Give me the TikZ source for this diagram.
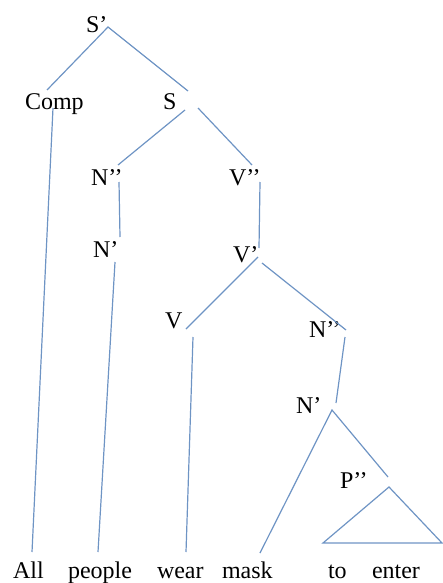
\documentclass[tikz,border=0pt]{standalone}
\usepackage{fontspec}
\setmainfont{Liberation Serif}
\definecolor{branch}{RGB}{110,148,196}
\begin{document}
\begin{tikzpicture}[x=1pt,y=-1pt,
  lbl/.style={anchor=base west,inner sep=0pt,outer sep=0pt,font=\fontsize{24}{28}\selectfont,text=black},
  br/.style={draw=branch,line width=1.2pt}]
\useasboundingbox (0,0) rectangle (442,583);
% labels
\node[lbl] (Sbar) at (86,33) {S’};
\node[lbl] (Comp) at (25,110) {Comp};
\node[lbl] (S) at (163,110) {S};
\node[lbl] (Npp1) at (91,185) {N’’};
\node[lbl] (Np1) at (93,257) {N’};
\node[lbl] (Vpp) at (229,185) {V’’};
\node[lbl] (Vp) at (233,262) {V’};
\node[lbl] (V) at (165,328) {V};
\node[lbl] (Npp2) at (309,337) {N’’};
\node[lbl] (Np2) at (296,413) {N’};
\node[lbl] (Ppp) at (340,488) {P’’};
\node[lbl] (w1) at (13,578) {All};
\node[lbl] (w2) at (68,578) {people};
\node[lbl] (w3) at (157,578) {wear};
\node[lbl] (w4) at (222,578) {mask};
\node[lbl] (w5) at (328,578) {to};
\node[lbl] (w6) at (372,578) {enter};
% branch endpoints
\coordinate (a1) at (108,27);
\coordinate (a2) at (47,90);
\coordinate (a3) at (188,91);
\coordinate (b1) at (53,108);
\coordinate (b2) at (32,552);
\coordinate (c1) at (185,110);
\coordinate (c2) at (118,165);
\coordinate (c3) at (198,108);
\coordinate (c4) at (252,165);
\coordinate (d1) at (119,182);
\coordinate (d2) at (120,237);
\coordinate (e1) at (115,262);
\coordinate (e2) at (98,552);
\coordinate (f1) at (260,182);
\coordinate (f2) at (259,248);
\coordinate (g1) at (258,257);
\coordinate (g2) at (186,329);
\coordinate (g3) at (262,263);
\coordinate (g4) at (346,330);
\coordinate (h1) at (193,337);
\coordinate (h2) at (186,552);
\coordinate (i1) at (345,337);
\coordinate (i2) at (336,403);
\coordinate (j1) at (332,410);
\coordinate (j2) at (260,553);
\coordinate (j3) at (388,477);
\coordinate (t1) at (389,487);
\coordinate (t2) at (323,543);
\coordinate (t3) at (442,543);
% branches
\draw[br] (a2) -- (a1) -- (a3);
\draw[br] (b1) -- (b2);
\draw[br] (c1) -- (c2);
\draw[br] (c3) -- (c4);
\draw[br] (d1) -- (d2);
\draw[br] (e1) -- (e2);
\draw[br] (f1) -- (f2);
\draw[br] (g1) -- (g2);
\draw[br] (g3) -- (g4);
\draw[br] (h1) -- (h2);
\draw[br] (i1) -- (i2);
\draw[br] (j2) -- (j1) -- (j3);
\draw[br] (t1) -- (t2) -- (t3) -- cycle;
\end{tikzpicture}
\end{document}
